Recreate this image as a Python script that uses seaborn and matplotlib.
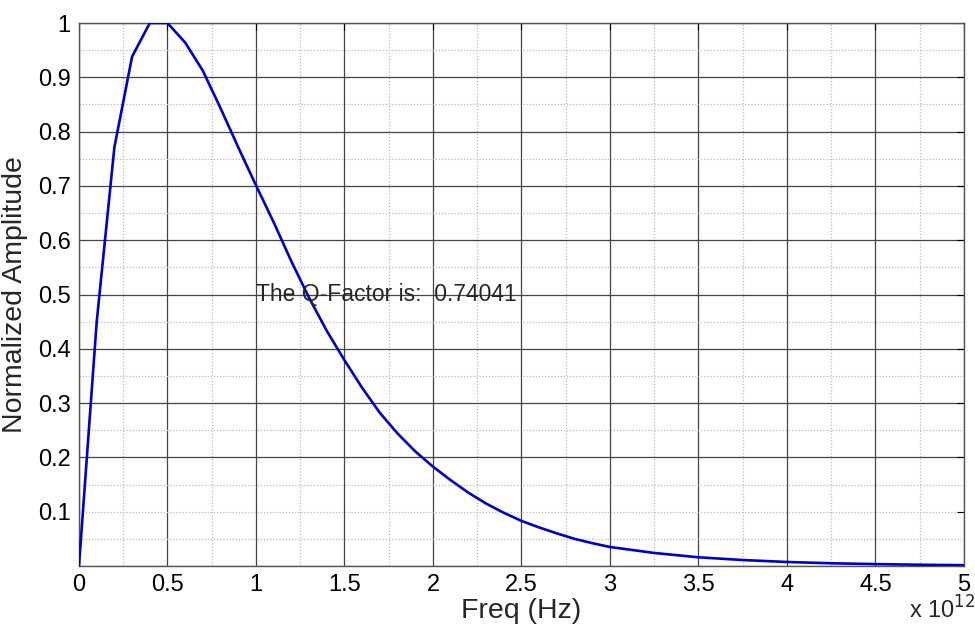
import numpy as np
import pandas as pd
import matplotlib
matplotlib.use("Agg")
import matplotlib.pyplot as plt
from matplotlib.ticker import MultipleLocator, FuncFormatter
import seaborn as sns

# Data (frequency in units of 1e12 Hz)
freq_e12 = [0, 0.1, 0.2, 0.3, 0.4, 0.5, 0.6, 0.7, 0.8, 0.9, 1.0,
            1.1, 1.2, 1.3, 1.4, 1.5, 1.6, 1.7, 1.8, 1.9, 2.0,
            2.1, 2.2, 2.3, 2.4, 2.5, 2.6, 2.7, 2.8, 2.9, 3.0,
            3.25, 3.5, 3.75, 4.0, 4.25, 4.5, 4.75, 5.0]
amplitude = [0, 0.449, 0.771, 0.938, 1.0, 1.0, 0.964, 0.912, 0.843, 0.771, 0.701,
             0.633, 0.561, 0.494, 0.433, 0.379, 0.328, 0.282, 0.244, 0.211, 0.183,
             0.158, 0.135, 0.115, 0.098, 0.083, 0.071, 0.060, 0.050, 0.042, 0.035,
             0.024, 0.016, 0.011, 0.0074, 0.005, 0.0035, 0.0023, 0.0015]
q_factor_text = "The Q-Factor is:  0.74041"
x_label = "Freq (Hz)"
y_label = "Normalized Amplitude"

df = pd.DataFrame({"freq": np.array(freq_e12) * 1e12, "amp": amplitude})

sns.set_style("white")
plt.rcParams["font.family"] = ["Liberation Sans", "DejaVu Sans"]

fig = plt.figure(figsize=(9.75, 6.27), dpi=100)
ax = fig.add_axes([0.081, 0.0973, 0.9077, 0.866])

sns.lineplot(data=df, x="freq", y="amp", ax=ax, color="#0000cc", linewidth=1.9, zorder=5)

ax.set_xlim(0, 5e12)
ax.set_ylim(0, 1)
ax.xaxis.set_major_locator(MultipleLocator(0.5e12))
ax.xaxis.set_minor_locator(MultipleLocator(0.25e12))
ax.yaxis.set_major_locator(MultipleLocator(0.1))
ax.yaxis.set_minor_locator(MultipleLocator(0.05))

def xfmt(v, pos):
    return f"{v/1e12:g}"
def yfmt(v, pos):
    if abs(v) < 1e-9:
        return ""
    return f"{v:g}"
ax.xaxis.set_major_formatter(FuncFormatter(xfmt))
ax.yaxis.set_major_formatter(FuncFormatter(yfmt))

ax.grid(True, which="major", color="#444444", linestyle="-", linewidth=0.9)
ax.grid(True, which="minor", color="#bbbbbb", linestyle=(0, (1, 1.5)), linewidth=0.9)
ax.set_axisbelow(True)

# In the reference the 0.1 gridline is drawn dotted
for tickval, gl in zip(ax.get_yticks(), ax.yaxis.get_gridlines()):
    if abs(tickval - 0.1) < 1e-6:
        gl.set_color("#bbbbbb")
        gl.set_linestyle((0, (1, 1.5)))

ax.tick_params(axis="both", which="major", direction="in", length=5, width=0.8,
               labelsize=17, pad=6, colors="#000000", top=True, right=True)
ax.tick_params(axis="both", which="minor", length=0)

for sp in ax.spines.values():
    sp.set_color("#555555")
    sp.set_linewidth(1.0)
    sp.set_visible(True)

ax.set_xlabel(x_label, fontsize=20.5, labelpad=1)
ax.set_ylabel(y_label, fontsize=20.5, labelpad=7)

ax.text(1.0e12, 0.5, q_factor_text, fontsize=16.5, ha="left", va="center", zorder=6)

fig.text(0.932, 0.005, r"x 10$^{12}$", fontsize=17, ha="left", va="bottom")

fig.savefig("out.png", dpi=100, facecolor="white")
